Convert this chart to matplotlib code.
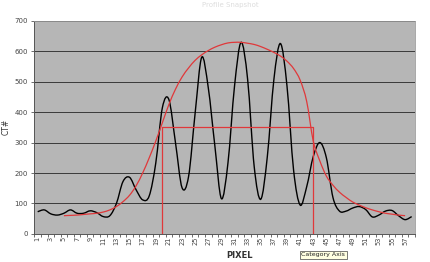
import numpy as np
import matplotlib
matplotlib.use("Agg")
import matplotlib.pyplot as plt
from matplotlib.path import Path
from matplotlib.patches import PathPatch

# pixel index (category axis)
pixels = list(range(1, 59))

# measured counts per pixel (black line)
counts = [73, 79, 66, 62, 68, 79, 68, 68, 76, 70,
          57, 60, 100, 172, 186, 145, 112, 125, 233, 414,
          441, 300, 152, 189, 397, 580, 480, 290, 116, 233,
          485, 629, 507, 221, 114, 254, 507, 625, 485, 210,
          95, 155, 254, 300, 250, 120, 75, 75, 85, 90,
          80, 56, 62, 75, 77, 60, 47, 57]

# fitted envelope (red curve), pixels 5..57
env_pixels = list(range(5, 58))
envelope = [60, 61, 62, 64, 66, 68, 72, 79, 90, 106,
            127, 158, 200, 250, 305, 365, 425, 475, 515, 545,
            570, 588, 602, 613, 621, 627, 629, 629, 626, 622,
            615, 606, 596, 584, 567, 543, 505, 435, 305, 240,
            190, 160, 137, 120, 105, 95, 86, 79, 73, 68,
            65, 62, 60]

# box marking the width at level 350
box_left, box_right, box_level = 20, 43, 350

y_ticks = list(range(0, 701, 100))
x_tick_labels = [str(i) for i in range(1, 58, 2)]


def smooth_path(xs, ys):
    # Catmull-Rom style bezier segments, like Excel's "smoothed line"
    xs = np.asarray(xs, float)
    ys = np.asarray(ys, float)
    n = len(xs)
    verts = [(xs[0], ys[0])]
    codes = [Path.MOVETO]
    for i in range(n - 1):
        i0 = max(i - 1, 0)
        i3 = min(i + 2, n - 1)
        c1 = (xs[i] + (xs[i + 1] - xs[i0]) / 6, ys[i] + (ys[i + 1] - ys[i0]) / 6)
        c2 = (xs[i + 1] - (xs[i3] - xs[i]) / 6, ys[i + 1] - (ys[i3] - ys[i]) / 6)
        verts += [c1, c2, (xs[i + 1], ys[i + 1])]
        codes += [Path.CURVE4] * 3
    return Path(verts, codes)


fig = plt.figure(figsize=(4.3, 2.62), dpi=100)
ax = fig.add_axes([0.080, 0.107, 0.885, 0.814])
ax.set_facecolor("#b6b6b6")

ax.set_xlim(0.5, 58.5)
ax.set_ylim(0, 700)

for v in y_ticks[1:]:
    ax.axhline(v, color="#3a3a3a", lw=0.7, zorder=1)

ax.add_patch(PathPatch(smooth_path(pixels, counts), fill=False,
                       edgecolor="black", lw=1.0, zorder=3))
ax.add_patch(PathPatch(smooth_path(env_pixels, envelope), fill=False,
                       edgecolor="#e0383a", lw=0.9, zorder=4))

ax.plot([box_left, box_left, box_right, box_right],
        [0, box_level, box_level, 0], color="#e0383a", lw=0.9, zorder=4)

ax.set_yticks(y_ticks)
ax.set_yticklabels([str(v) for v in y_ticks], fontsize=5, color="#444444")
ax.set_xticks(range(1, 58, 2))
ax.set_xticklabels(x_tick_labels, rotation=90, fontsize=4.8, color="#444444")
ax.set_xticks(np.arange(0.5, 59, 1), minor=True)
ax.tick_params(axis="x", which="major", length=0, pad=2)
ax.tick_params(axis="x", which="minor", length=2.5, color="#555555", width=0.6)
ax.tick_params(axis="y", length=2.5, width=0.6, color="#555555", pad=2)

for side in ["top", "right"]:
    ax.spines[side].set_color("#9a9a9a")
    ax.spines[side].set_linewidth(0.6)
for side in ["left", "bottom"]:
    ax.spines[side].set_color("#555555")
    ax.spines[side].set_linewidth(0.7)

ax.set_ylabel("CT#", fontsize=5.5, color="#333333", labelpad=3)
fig.text(0.556, 0.025, "PIXEL", fontsize=6, fontweight="bold",
         color="#333333", ha="center", va="center")
fig.text(0.535, 0.992, "Profile Snapshot", fontsize=5, color="#dddddd",
         ha="center", va="top")
fig.text(0.752, 0.027, "Category Axis", fontsize=4.5, color="#222222",
         ha="center", va="center",
         bbox=dict(boxstyle="square,pad=0.25", fc="#ffffe1", ec="#444444", lw=0.5))

fig.savefig("out.png", dpi=100)
